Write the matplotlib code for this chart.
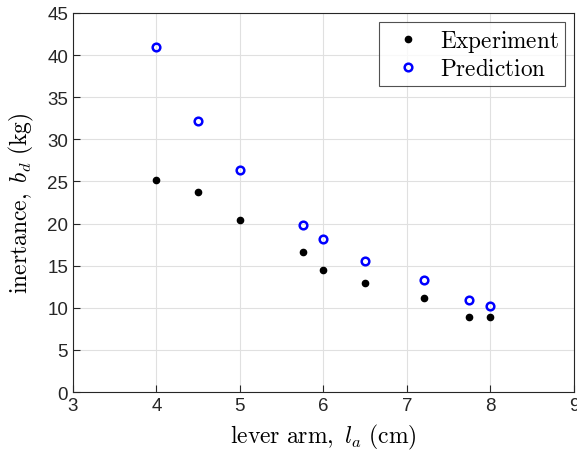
import matplotlib
matplotlib.use("Agg")
import matplotlib.pyplot as plt

plt.rcParams['mathtext.fontset'] = 'cm'

lever_arm = [4.0, 4.5, 5.0, 5.75, 6.0, 6.5, 7.2, 7.75, 8.0]
experiment = [25.2, 23.8, 20.4, 16.6, 14.5, 12.9, 11.1, 8.9, 8.9]
prediction = [40.9, 32.2, 26.3, 19.8, 18.2, 15.5, 13.3, 10.9, 10.2]

x_ticks = [3, 4, 5, 6, 7, 8, 9]
y_ticks = [0, 5, 10, 15, 20, 25, 30, 35, 40, 45]

fig = plt.figure(figsize=(5.77, 4.64), dpi=100)
ax = fig.add_axes([0.1265, 0.153, 0.868, 0.817])

ax.plot(lever_arm, experiment, 'o', color='black', markersize=4.5,
        label=r'$\mathrm{Experiment}$', zorder=3)
ax.plot(lever_arm, prediction, 'o', markerfacecolor='none', markeredgecolor='blue',
        markeredgewidth=1.8, markersize=5.5, label=r'$\mathrm{Prediction}$', zorder=3)

ax.set_xlim(3, 9)
ax.set_ylim(0, 45)
ax.set_xticks(x_ticks)
ax.set_yticks(y_ticks)
ax.grid(True, color='#e0e0e0', linewidth=0.8)
ax.set_axisbelow(True)
ax.tick_params(direction='in', length=5, width=0.8, labelsize=13.5, colors='#262626')
for lbl in ax.get_xticklabels() + ax.get_yticklabels():
    lbl.set_fontfamily('Liberation Sans')
for s in ax.spines.values():
    s.set_color('#262626')
    s.set_linewidth(0.8)

ax.set_xlabel(r'$\mathrm{lever\ arm,}\ l_a\ \mathrm{(cm)}$', fontsize=17, labelpad=6)
ax.set_ylabel(r'$\mathrm{inertance,}\ b_d\ \mathrm{(kg)}$', fontsize=17, labelpad=8)

leg = ax.legend(loc='upper right', fontsize=16.7, frameon=True, fancybox=False,
                edgecolor='#262626', handletextpad=0.4, borderaxespad=0.4,
                handlelength=2.0, borderpad=0.25, labelspacing=0.15)
leg.get_frame().set_linewidth(0.8)

fig.savefig('out.png', dpi=100)
